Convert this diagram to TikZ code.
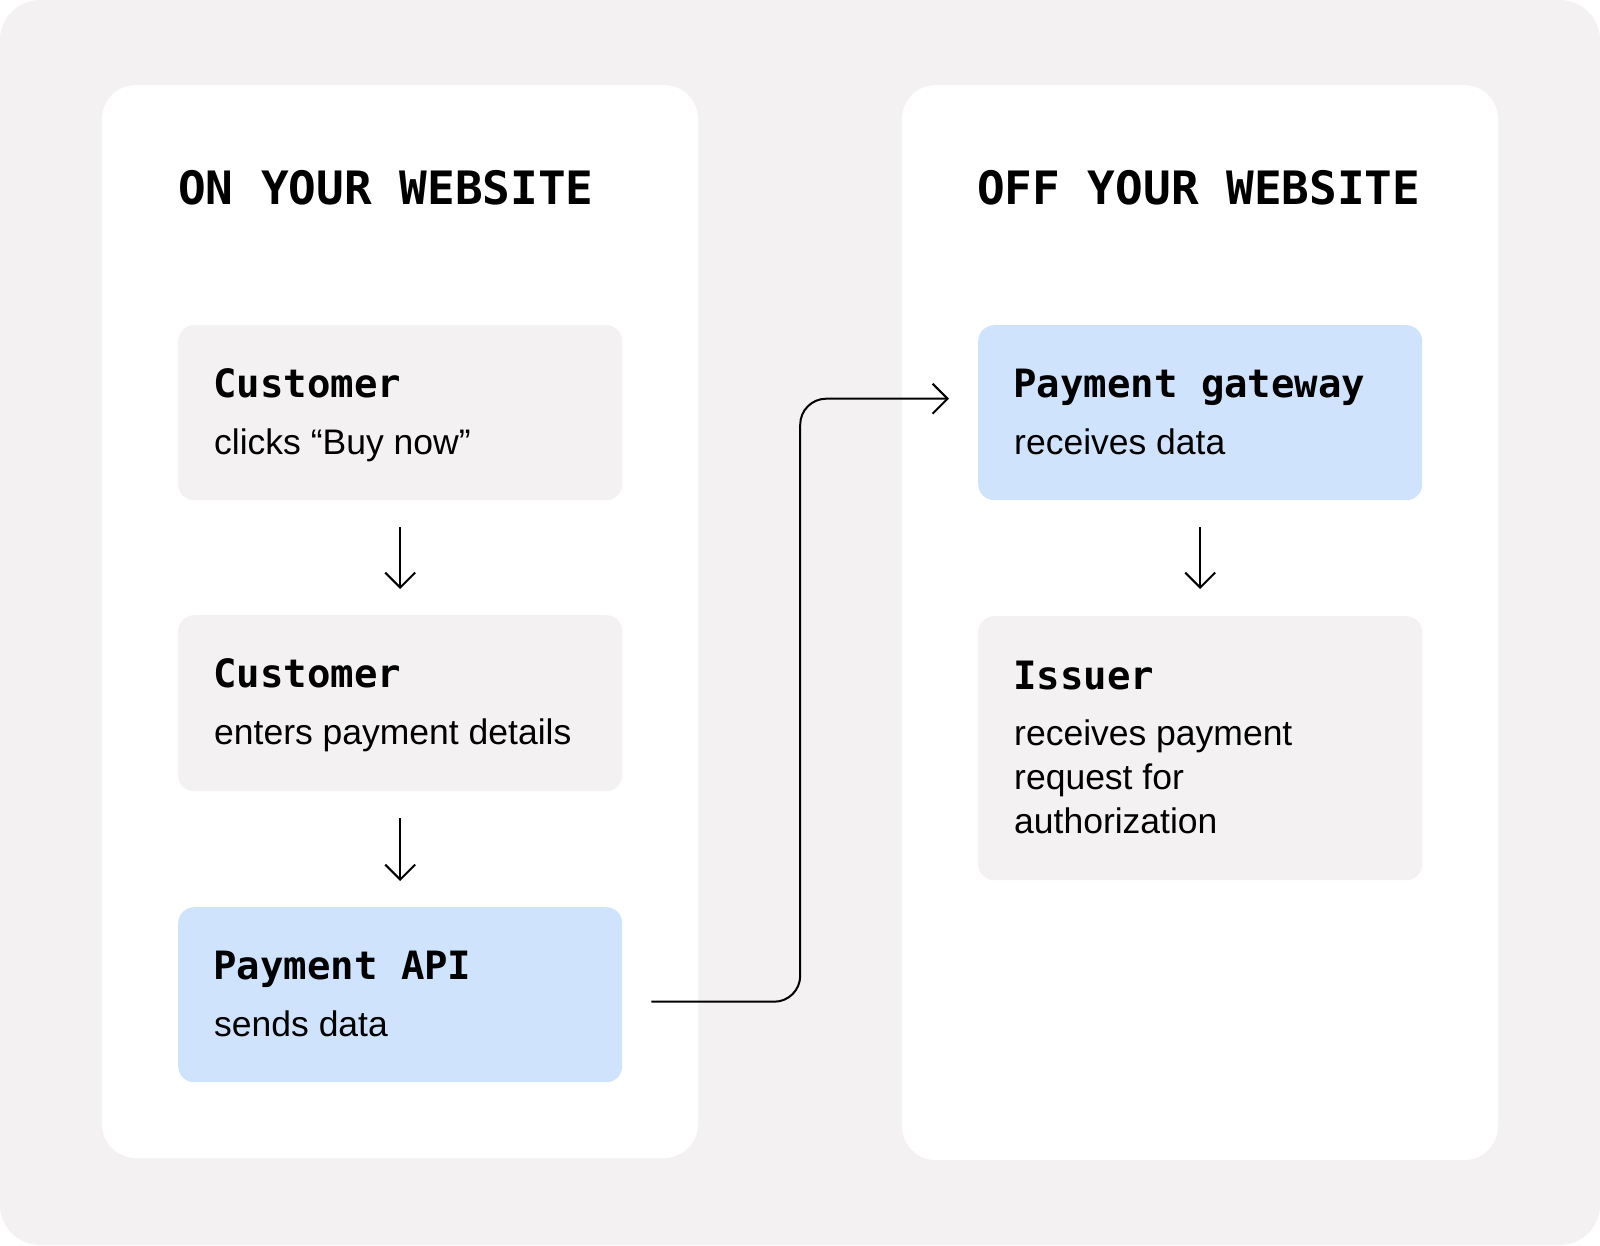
\documentclass[tikz,border=0pt]{standalone}
\usepackage{fontspec}
\setmainfont{Liberation Sans}
\newfontfamily\monofont{DejaVu Sans Mono}
\usetikzlibrary{arrows.meta, calc}
\definecolor{pagebg}{RGB}{243, 241, 242}
\definecolor{cardgray}{RGB}{243, 241, 242}
\definecolor{cardblue}{RGB}{207, 227, 253}
\newcommand\titlefont{\monofont\bfseries\fontsize{46}{55}\selectfont}
\newcommand\headfont{\monofont\bfseries\fontsize{39}{47}\selectfont}
\newcommand\bodyfont{\fontsize{35.5}{44}\selectfont}

\tikzset{
	panel/.style={fill=white, rounded corners=34pt},
	card/.style={fill=cardgray, rounded corners=16pt, anchor=north west, inner sep=0pt,
		minimum width=444pt},
	bluecard/.style={card, fill=cardblue},
	paneltitle/.style={font=\titlefont, anchor=base west, inner sep=0pt},
	cardhead/.style={font=\headfont, anchor=base west, inner sep=0pt},
	cardbody/.style={font=\bodyfont, anchor=base west, inner sep=0pt},
	flow/.style={-{Straight Barb[length=15pt, width=30pt, line width=2pt]}, line width=2pt},
}

\begin{document}
\begin{tikzpicture}[x=1pt, y=-1pt]
	\useasboundingbox (0,0) rectangle (1600,1245);
	\fill[pagebg, rounded corners=40pt] (0,0) rectangle (1600,1245);
	
	% panels
	\fill[panel] (102,85) rectangle (698,1158);
	\fill[panel] (902,85) rectangle (1498,1160);
	
	\node[paneltitle] (ontitle)  at (178,204) {ON YOUR WEBSITE};
	\node[paneltitle] (offtitle) at (977,204) {OFF YOUR WEBSITE};
	
	% left column
	\node[card, minimum height=175pt] (buy) at (178,325) {};
	\node[cardhead] (buyhead) at (213,397) {Customer};
	\node[cardbody] (buytext) at (214,454) {clicks “Buy now”};
	
	\node[card, minimum height=176pt] (details) at (178,615) {};
	\node[cardhead] (detailshead) at (213,687) {Customer};
	\node[cardbody] (detailstext) at (214,744) {enters payment details};
	
	\node[bluecard, minimum height=175pt] (api) at (178,907) {};
	\node[cardhead] (apihead) at (213,979) {Payment API};
	\node[cardbody] (apitext) at (214,1036) {sends data};
	
	% right column
	\node[bluecard, minimum height=175pt] (gateway) at (978,325) {};
	\node[cardhead] (gatewayhead) at (1013,397) {Payment gateway};
	\node[cardbody] (gatewaytext) at (1014,454) {receives data};
	
	\node[card, minimum height=264pt] (issuer) at (978,616) {};
	\node[cardhead] (issuerhead) at (1013,689) {Issuer};
	\node[cardbody] (issuertext) at (1014,745)
		{\vtop{\hbox{receives payment}\hbox{request for}\hbox{authorization}}};
	
	% arrows
	\draw[flow] ([yshift=-27pt]buy.south) -- ([yshift=26pt]details.north);
	\draw[flow] ([yshift=-27pt]details.south) -- ([yshift=26pt]api.north);
	\draw[flow] ([yshift=-27pt]gateway.south) -- ([yshift=27pt]issuer.north);
	
	\coordinate (apiout) at ([xshift=29pt, yshift=-7pt]api.east);
	\coordinate (gatewayin) at ([xshift=-29pt, yshift=14pt]gateway.west);
	\draw[flow, rounded corners=26pt] (apiout) -| ($(apiout)!0.5!(gatewayin)$) |- (gatewayin);
	
\end{tikzpicture}
\end{document}
